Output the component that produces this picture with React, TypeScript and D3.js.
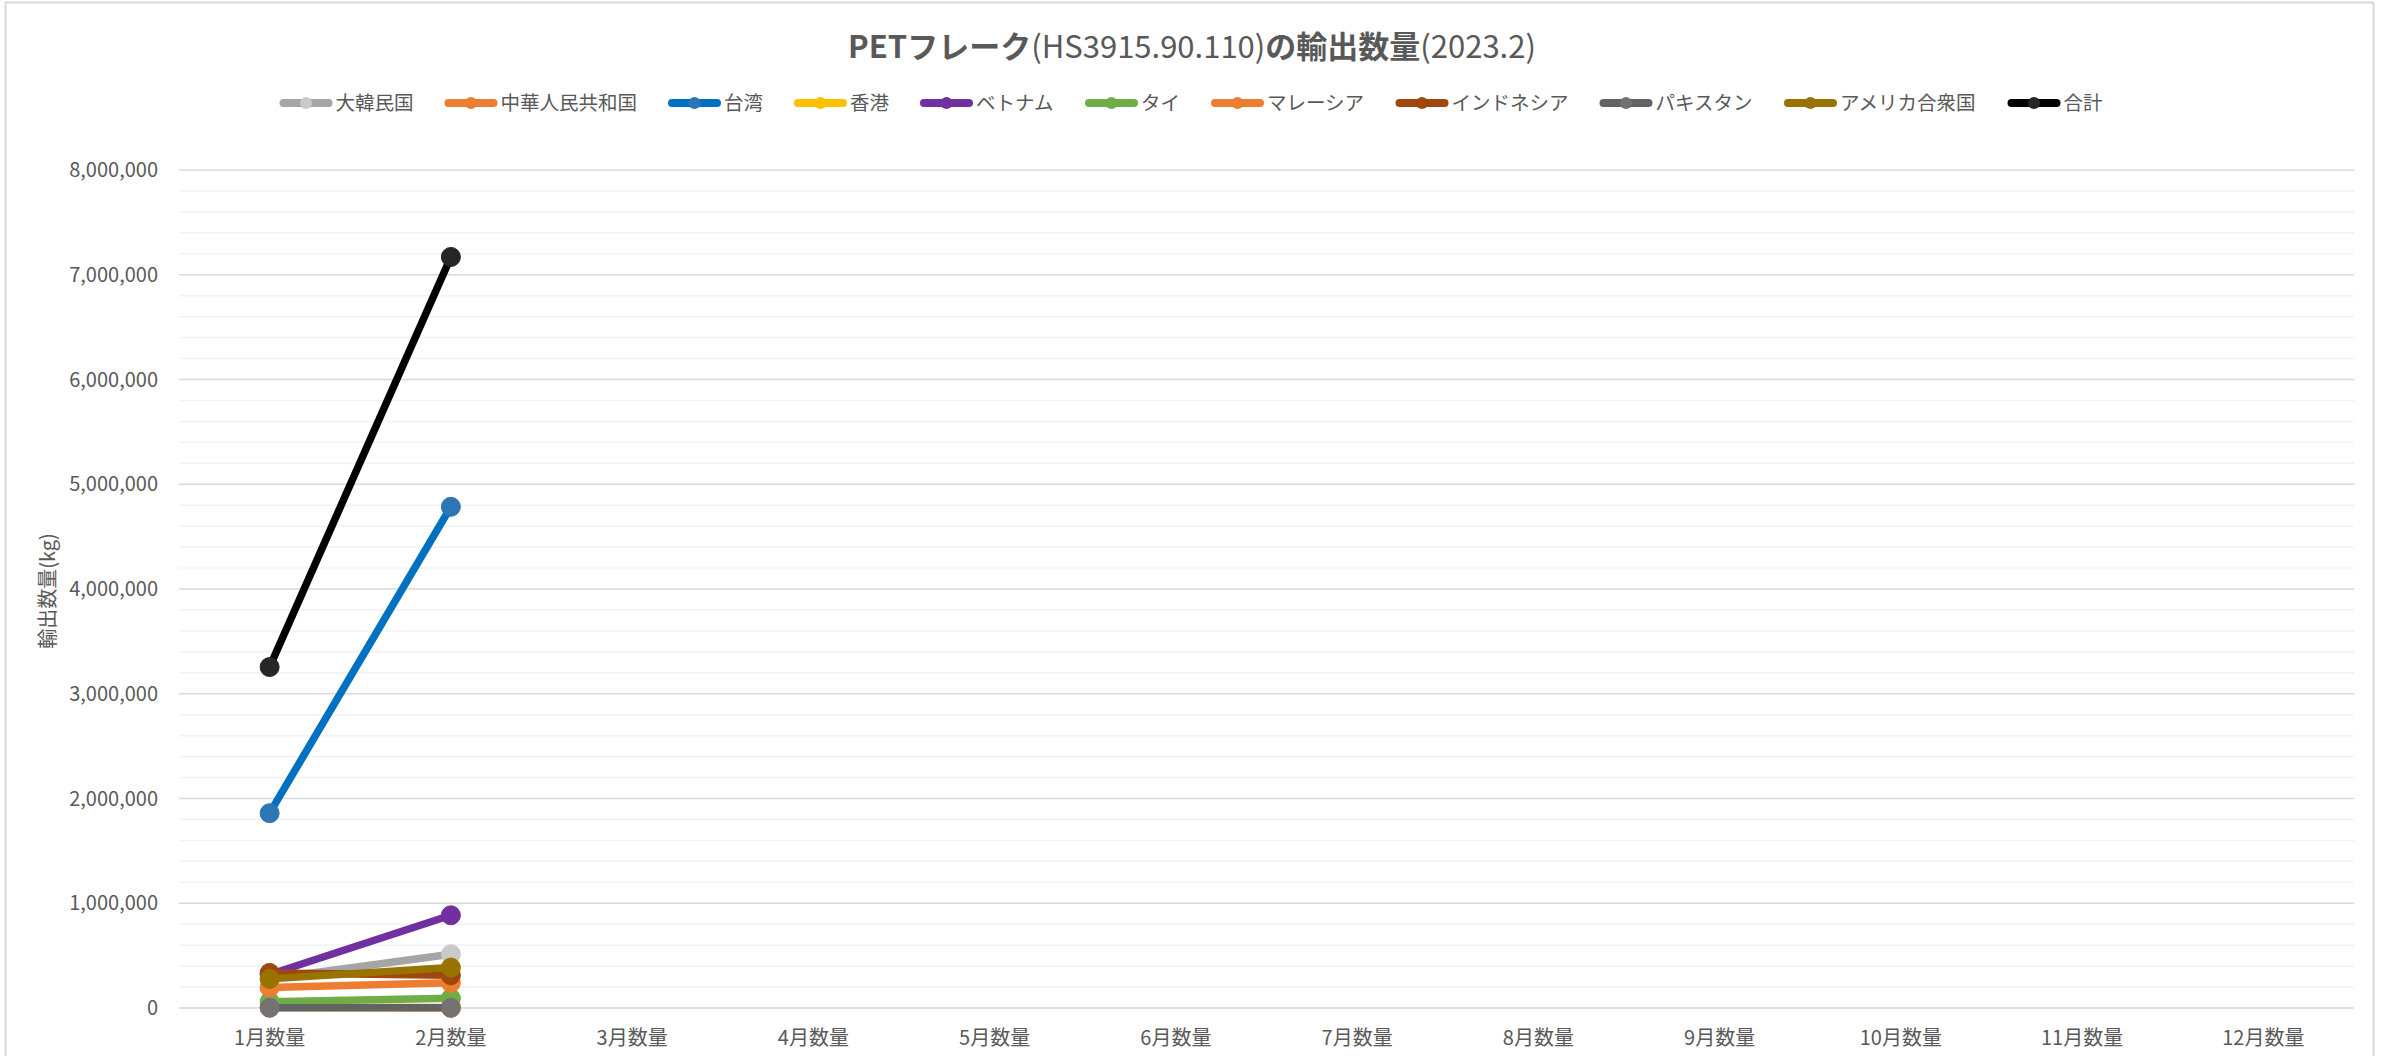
import React from "react";
import * as d3 from "d3";

const months = ["1月数量","2月数量","3月数量","4月数量","5月数量","6月数量","7月数量","8月数量","9月数量","10月数量","11月数量","12月数量"];
const yTicks = [0,1000000,2000000,3000000,4000000,5000000,6000000,7000000,8000000];

const korea = [280000, 513000];
const china = [5000, 5000];
const taiwan = [1860000, 4785000];
const hongkong = [8000, 3000];
const vietnam = [320000, 885000];
const thailand = [60000, 92000];
const malaysia = [195000, 240000];
const indonesia = [335000, 312000];
const pakistan = [2000, 2000];
const usa = [278000, 386000];
const total = [3255000, 7170000];

const seriesNames = ["大韓民国","中華人民共和国","台湾","香港","ベトナム","タイ","マレーシア","インドネシア","パキスタン","アメリカ合衆国","合計"];
const seriesValues = [korea, china, taiwan, hongkong, vietnam, thailand, malaysia, indonesia, pakistan, usa, total];
const lineColors = ["#A5A5A5","#ED7D31","#0070C0","#FFC000","#7030A0","#70AD47","#ED7D31","#9E480E","#636363","#997300","#000000"];
const markerColors = ["#C9C9C9","#ED7D31","#2E75B6","#FFC000","#7030A0","#70AD47","#ED7D31","#9E480E","#767171","#997300","#262626"];

const W = 2383, H = 1056;
const FONT = "'Noto Sans CJK JP', 'Noto Sans', sans-serif";

export default function App() {
  const x = d3.scaleBand<string>().domain(months).range([179, 2354]).padding(0);
  const y = d3.scaleLinear().domain([0, 8000000]).range([1008, 170]);
  const minor = d3.range(0, 8000001, 200000).filter((v) => v % 1000000 !== 0);
  const fmt = d3.format(",");
  const line = d3.line<number>().x((_, i) => (x(months[i]) as number) + x.bandwidth() / 2).y((v) => y(v));

  const legFs = 19.5;
  const symW = 53, symGap = 3, itemGap = 31;
  const textW = seriesNames.map((s) => s.length * legFs);
  const totalW = textW.reduce((a, b) => a + b, 0) + seriesNames.length * (symW + symGap) + (seriesNames.length - 1) * itemGap;
  let cursor = 1191 - totalW / 2;
  const legendItems = seriesNames.map((s, i) => {
    const start = cursor;
    cursor += symW + symGap + textW[i] + itemGap;
    return { s, i, start };
  });

  return (
    <div style={{ position: "absolute", left: 0, top: 0 }}>
      <svg width={W} height={H} style={{ display: "block", background: "#fff" }} fontFamily={FONT}>
        <rect x={5.5} y={2.5} width={2368} height={H + 10} fill="#fff" stroke="#D9D9D9" strokeWidth={2} />
        <text x={1192} y={58} textAnchor="middle" fontSize={31} fill="#595959">
          <tspan fontWeight="bold">PETフレーク</tspan>
          <tspan>(HS3915.90.110)</tspan>
          <tspan fontWeight="bold">の輸出数量</tspan>
          <tspan>(2023.2)</tspan>
        </text>
        {legendItems.map(({ s, i, start }) => (
          <g key={s}>
            <line x1={start + 4} x2={start + symW - 4} y1={103} y2={103} stroke={lineColors[i]} strokeWidth={8} strokeLinecap="round" />
            <circle cx={start + symW / 2} cy={103} r={6} fill={markerColors[i]} />
            <text x={start + symW + symGap} y={110} fontSize={legFs} fill="#595959">{s}</text>
          </g>
        ))}
        {minor.map((v) => (
          <line key={"m" + v} x1={179} x2={2354} y1={y(v)} y2={y(v)} stroke="#F2F2F2" strokeWidth={1.5} />
        ))}
        {yTicks.map((v) => (
          <g key={"t" + v}>
            <line x1={179} x2={2354} y1={y(v)} y2={y(v)} stroke="#D9D9D9" strokeWidth={1.5} />
            <text x={158} y={y(v) + 7} textAnchor="end" fontSize={20} fill="#595959">{fmt(v)}</text>
          </g>
        ))}
        {months.map((m) => (
          <text key={m} x={(x(m) as number) + x.bandwidth() / 2} y={1045} textAnchor="middle" fontSize={20} fill="#595959">{m}</text>
        ))}
        <text transform={`translate(55,591) rotate(-90)`} textAnchor="middle" fontSize={20} fill="#595959">輸出数量(kg)</text>
        {seriesValues.map((vals, si) => (
          <g key={"s" + si}>
            <path d={line(vals) || ""} fill="none" stroke={lineColors[si]} strokeWidth={7.5} strokeLinecap="round" strokeLinejoin="round" />
            {vals.map((v, i) => (
              <circle key={i} cx={(x(months[i]) as number) + x.bandwidth() / 2} cy={y(v)} r={9.5} fill={markerColors[si]} stroke={markerColors[si]} strokeWidth={1} />
            ))}
          </g>
        ))}
      </svg>
    </div>
  );
}
